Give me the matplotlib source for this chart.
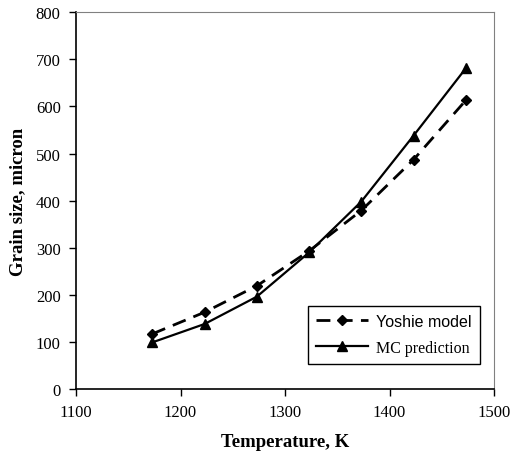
import matplotlib
matplotlib.use("Agg")
import matplotlib.pyplot as plt

plt.rcParams['font.family'] = ['Liberation Serif', 'DejaVu Serif']

# data
temp = [1173, 1223, 1273, 1323, 1373, 1423, 1473]
yoshie = [117, 163, 219, 293, 379, 487, 613]
mc = [99, 138, 196, 290, 398, 538, 681]

fig = plt.figure(figsize=(5.12, 4.6), dpi=100)
ax = fig.add_axes([76 / 512, 70 / 460, 418 / 512, 376.7 / 460])

ax.plot(temp, yoshie, color='black', lw=2.0, dashes=(5, 3), marker='D',
        markersize=5, label='Yoshie model')
ax.plot(temp, mc, color='black', lw=1.6, marker='^', markersize=7,
        label='MC prediction')

ax.set_xlim(1100, 1500)
ax.set_ylim(0, 800)
ax.set_xticks([1100, 1200, 1300, 1400, 1500])
ax.set_yticks(range(0, 801, 100))
ax.tick_params(direction='out', length=5, width=1, labelsize=12, pad=6)
for s in ['top', 'right']:
    ax.spines[s].set_color('#808080')
for s in ['left', 'bottom']:
    ax.spines[s].set_linewidth(1.2)

ax.set_xlabel('Temperature, K', fontsize=13.5, fontweight='bold', labelpad=9)
ax.set_ylabel('Grain size, micron', fontsize=13.5, fontweight='bold', labelpad=7)

leg = ax.legend(loc='lower right', bbox_to_anchor=(0.985, 0.045), fancybox=False,
                edgecolor='black', framealpha=1, fontsize=11.5, handlelength=3.3,
                borderpad=0.5, labelspacing=0.7, handletextpad=0.5)
leg.get_frame().set_linewidth(1.0)
leg.get_texts()[0].set_family('Liberation Sans')

fig.savefig('out.png', dpi=100)
